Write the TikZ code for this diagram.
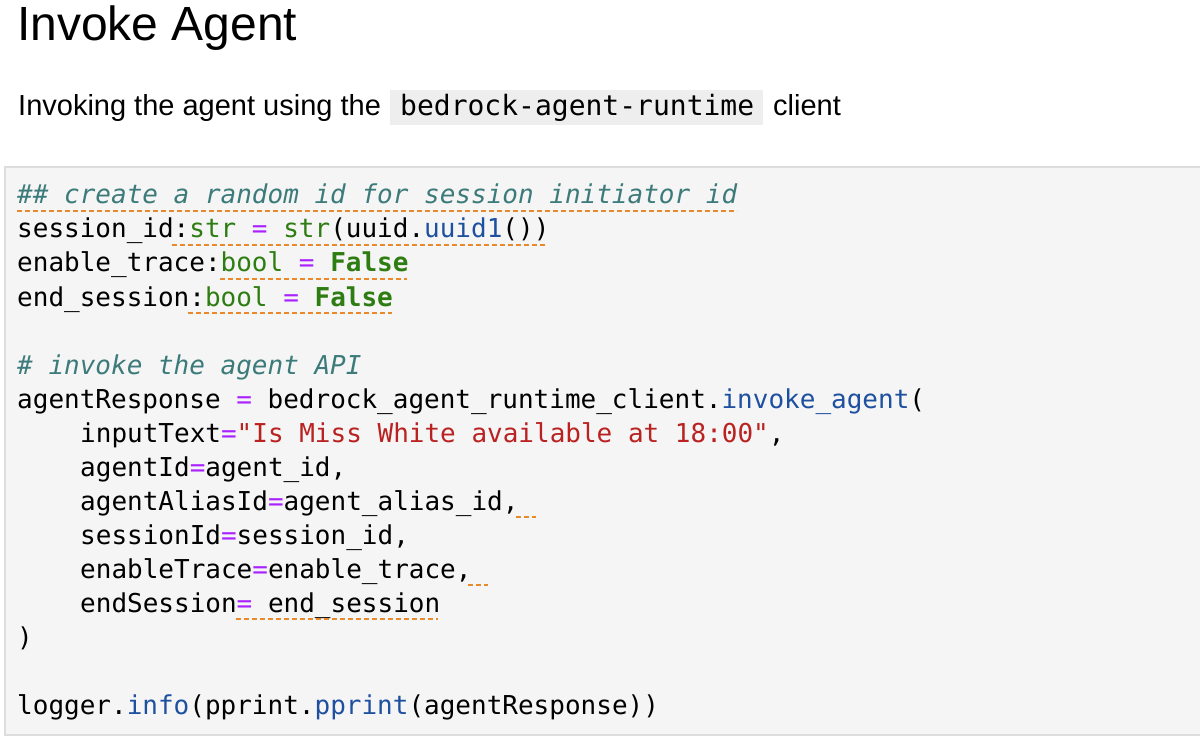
\documentclass[tikz,border=0pt]{standalone}
\usepackage{fontspec}
\setmainfont{Liberation Sans}
\setmonofont{DejaVu Sans Mono}
\definecolor{cbg}{HTML}{F5F5F5}
\definecolor{cbd}{HTML}{DDDDDD}
\definecolor{ibg}{HTML}{EEEEEE}
\definecolor{ccom}{HTML}{3D7B7B}
\definecolor{cgrn}{HTML}{2E7D12}
\definecolor{cop}{HTML}{AA22FF}
\definecolor{cfn}{HTML}{1E50A0}
\definecolor{cstr}{HTML}{BA2121}
\definecolor{clint}{HTML}{E8892B}
\newcommand{\cm}[1]{\textcolor{ccom}{\itshape #1}}
\newcommand{\gr}[1]{\textcolor{cgrn}{#1}}
\newcommand{\op}[1]{\textcolor{cop}{#1}}
\newcommand{\fn}[1]{\textcolor{cfn}{#1}}
\newcommand{\st}[1]{\textcolor{cstr}{#1}}
\begin{document}
\begin{tikzpicture}[x=1pt,y=-1pt,
  code/.style={anchor=base west,inner sep=0pt,font=\fontsize{26}{30}\ttfamily},
  lint/.style={draw=clint,line width=1.8pt,dash pattern=on 5pt off 3pt}]
\useasboundingbox (0,0) rectangle (1200,738);
\fill[white] (0,0) rectangle (1200,738);
\node[anchor=base west,inner sep=0pt,font=\fontsize{48}{52}\selectfont] (title) at (17,41) {Invoke Agent};
\fill[ibg] (390,90) rectangle (763,125);
\node[anchor=base west,inner sep=0pt,font=\fontsize{29}{32}\selectfont] (sub1) at (18,116) {Invoking the agent using the};
\node[anchor=base west,inner sep=0pt,font=\fontsize{28}{32}\ttfamily] (sub2) at (400,116) {bedrock-agent-runtime};
\node[anchor=base west,inner sep=0pt,font=\fontsize{29}{32}\selectfont] (sub3) at (773,116) {client};
\draw[cbd,fill=cbg,line width=1.2pt] (5,167) rectangle (1205,735);
\node[code] (l1) at (17,204) {\cm{\#\# create a random id for session initiator id}};
\node[code] (l2) at (17,238) {session\_id:\gr{str} \op{=} \gr{str}(uuid.\fn{uuid1}())};
\node[code] (l3) at (17,272) {enable\_trace:\gr{bool} \op{=} \gr{\bfseries False}};
\node[code] (l4) at (17,306) {end\_session:\gr{bool} \op{=} \gr{\bfseries False}};
\node[code] (l5) at (17,374) {\cm{\# invoke the agent API}};
\node[code] (l6) at (17,408) {agentResponse \op{=} bedrock\_agent\_runtime\_client.\fn{invoke\_agent}(};
\node[code] (l7) at (80,442) {inputText\op{=}\st{"Is Miss White available at 18:00"},};
\node[code] (l8) at (80,476) {agentId\op{=}agent\_id,};
\node[code] (l9) at (80,510) {agentAliasId\op{=}agent\_alias\_id,};
\node[code] (l10) at (80,544) {sessionId\op{=}session\_id,};
\node[code] (l11) at (80,578) {enableTrace\op{=}enable\_trace,};
\node[code] (l12) at (80,612) {endSession\op{=} end\_session};
\node[code] (l13) at (17,646) {)};
\node[code] (l14) at (17,714) {logger.\fn{info}(pprint.\fn{pprint}(agentResponse))};
\draw[lint] (17,211) -- (737,211);
\draw[lint] (172,245) -- (547,245);
\draw[lint] (220,279) -- (407,279);
\draw[lint] (188,313) -- (392,313);
\draw[lint] (516,517) -- (536,517);
\draw[lint] (468,585) -- (488,585);
\draw[lint] (236,619) -- (438,619);
\end{tikzpicture}
\end{document}
